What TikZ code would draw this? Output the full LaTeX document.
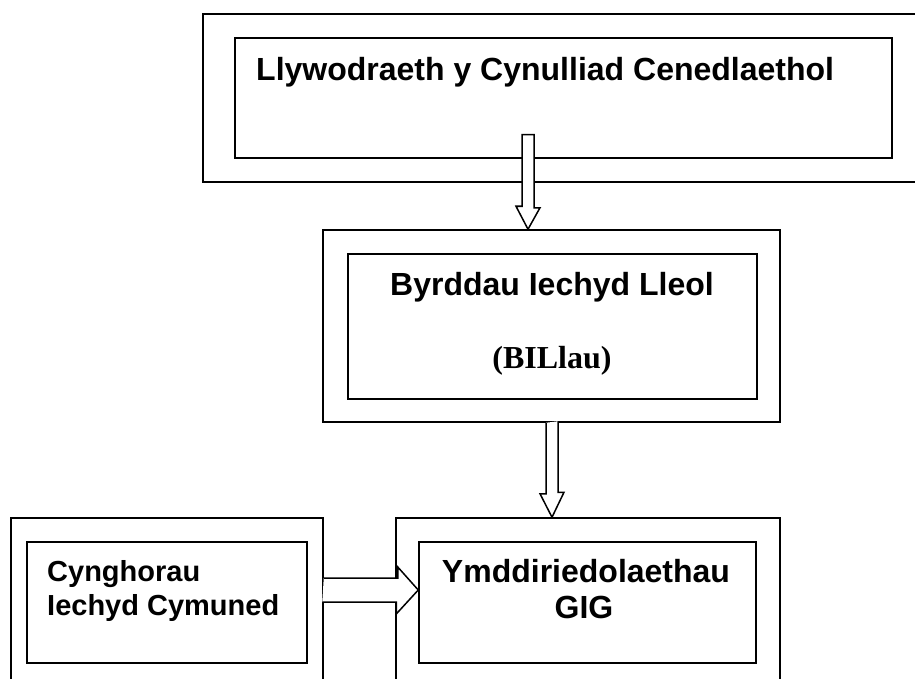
\documentclass[tikz,border=0pt]{standalone}
\usepackage{fontspec}
\setmainfont{Liberation Sans}
\newfontfamily\timesfont{Liberation Serif}
\usetikzlibrary{calc}
\tikzset{
  box/.style={draw, line width=1.5pt, inner sep=0pt},
  words/.style={inner sep=0pt, font=\bfseries\fontsize{32}{36}\selectfont},
  smallwords/.style={inner sep=0pt, font=\bfseries\fontsize{29}{34}\selectfont},
  hollow/.style={draw, fill=white, line width=1.5pt, line join=miter}
}
\begin{document}
\begin{tikzpicture}[x=1pt,y=-1pt]
  \useasboundingbox (0,0) rectangle (915,679);
  \clip (0,0) rectangle (915,679);

  % boxes
  \node[box, minimum width=732pt, minimum height=168pt] (gov) at (569,98) {};
  \node[box, minimum width=657pt, minimum height=120pt] (govin) at (563.5,98) {};
  \node[box, minimum width=457pt, minimum height=192pt] (bil) at (551.5,326) {};
  \node[box, minimum width=409pt, minimum height=145pt] (bilin) at (552.5,326.5) {};
  \node[box, minimum width=312pt, minimum height=182pt] (chc) at (167,609) {};
  \node[box, minimum width=280pt, minimum height=121pt] (chcin) at (167,602.5) {};
  \node[box, minimum width=384pt, minimum height=182pt] (trust) at (588,609) {};
  \node[box, minimum width=337pt, minimum height=121pt] (trustin) at (587.5,602.5) {};

  % texts
  \node[words, anchor=base west] (govtext) at (256,81) {Llywodraeth y Cynulliad Cenedlaethol};
  \node[words, anchor=base] (biltext) at (552,295) {Byrddau Iechyd Lleol};
  \node[words, anchor=base] (bilshort) at (552,368) {\timesfont\bfseries (BILlau)};
  \node[smallwords, anchor=base west] (chctext) at (47,581) {Cynghorau};
  \node[smallwords, anchor=base west] (chctext2) at (47,615) {Iechyd Cymuned};
  \node[words, anchor=base] (trusttext) at (586,582) {Ymddiriedolaethau};
  \node[words, anchor=base] (trusttext2) at (584,618) {GIG};

  % arrows
  \draw[hollow] ($(govin.south)+(-41.5,-24)$) -- ++(12,0) -- ++(0,73) -- ++(6,0)
    -- ($(bil.north)+(-23.5,0)$) -- ++(-12,-23) -- ++(6,0) -- cycle;
  \draw[hollow] ($(bil.south)+(-5.5,0)$) -- ++(0,71) -- ++(-6,0)
    -- ($(trust.north)+(-36,0)$) -- ++(12,-25) -- ++(-6,0) -- ++(0,-71);
  \draw[hollow] ($(chc.east)+(0,-31)$) -- ++(74,0) -- ++(0,-11)
    -- ($(trustin.west)+(0,-12.5)$) -- ++(-22,24) -- ++(0,-12) -- ++(-74,0);
\end{tikzpicture}
\end{document}
